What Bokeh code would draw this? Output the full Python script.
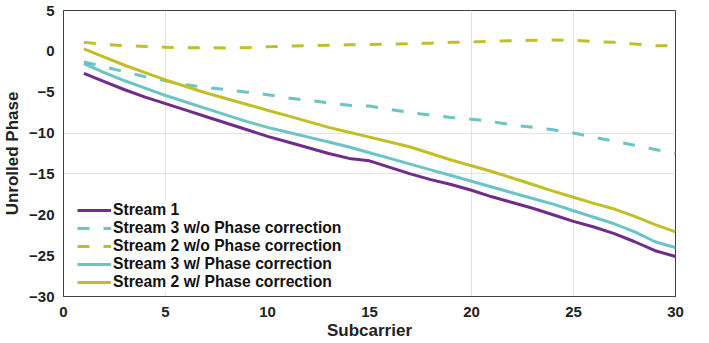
from bokeh.plotting import figure
from bokeh.models import FixedTicker, Range1d
from bokeh.embed import file_html
from bokeh.resources import INLINE

subcarrier = list(range(1, 31))
stream1 = [-2.7, -3.7, -4.7, -5.6, -6.4, -7.2, -8.0, -8.8, -9.6, -10.4,
           -11.1, -11.8, -12.5, -13.1, -13.4, -14.2, -15.0, -15.7, -16.3, -17.0,
           -17.8, -18.5, -19.2, -20.0, -20.8, -21.5, -22.3, -23.3, -24.4, -25.1]
stream3_wo = [-1.3, -1.9, -2.5, -3.1, -3.6, -4.1, -4.4, -4.7, -5.0, -5.3,
              -5.7, -6.0, -6.3, -6.6, -6.7, -7.1, -7.5, -7.8, -8.1, -8.3,
              -8.6, -9.0, -9.3, -9.6, -10.0, -10.5, -11.0, -11.5, -12.0, -12.5]
stream2_wo = [1.1, 0.85, 0.7, 0.6, 0.5, 0.45, 0.45, 0.4, 0.45, 0.55,
              0.65, 0.7, 0.75, 0.8, 0.85, 0.9, 0.95, 1.0, 1.1, 1.15,
              1.25, 1.3, 1.35, 1.4, 1.35, 1.2, 1.1, 0.9, 0.7, 0.7]
stream3_w = [-1.5, -2.6, -3.6, -4.5, -5.4, -6.2, -7.0, -7.8, -8.6, -9.3,
             -9.9, -10.5, -11.1, -11.7, -12.4, -13.1, -13.8, -14.5, -15.2, -15.9,
             -16.6, -17.3, -18.0, -18.7, -19.5, -20.3, -21.1, -22.1, -23.3, -24.0]
stream2_w = [0.3, -0.7, -1.7, -2.6, -3.5, -4.3, -5.1, -5.8, -6.5, -7.2,
             -7.9, -8.6, -9.3, -9.9, -10.5, -11.1, -11.7, -12.5, -13.3, -14.0,
             -14.7, -15.5, -16.3, -17.1, -17.85, -18.6, -19.3, -20.2, -21.2, -22.1]

labels = ["Stream 1", "Stream 3 w/o Phase correction", "Stream 2 w/o Phase correction",
          "Stream 3 w/ Phase correction", "Stream 2 w/ Phase correction"]
x_ticks = [0, 5, 10, 15, 20, 25, 30]
y_ticks = [5, 0, -5, -10, -15, -20, -25, -30]
x_grid = [5, 20, 25]
y_grid = [-10, -15]

PURPLE = "#6f2c8c"
TEAL = "#6cc4c4"
OLIVE = "#c0bf28"
FONT = "Liberation Sans"
AXC = "#404040"

p = figure(frame_width=612, frame_height=286, output_backend="svg", toolbar_location=None,
           x_range=Range1d(0, 30), y_range=Range1d(-30, 5),
           min_border_left=54, min_border_right=27, min_border_top=10, min_border_bottom=40)
p.background_fill_color = "white"
p.border_fill_color = "white"
p.outline_line_color = AXC
p.outline_line_width = 1

series = [(stream1, PURPLE, "solid"), (stream3_wo, TEAL, "12 14"), (stream2_wo, OLIVE, "12 14"),
          (stream3_w, TEAL, "solid"), (stream2_w, OLIVE, "solid")]
for (ys, col, dash), lab in zip(series, labels):
    p.line(subcarrier, ys, line_color=col, line_width=3, line_dash=dash, legend_label=lab)

for ax, ticks in ((p.xaxis[0], x_ticks), (p.yaxis[0], y_ticks)):
    ax.ticker = FixedTicker(ticks=ticks)
    ax.major_label_overrides = {t: str(t).replace("-", "\u2212") for t in ticks}
    ax.major_tick_line_color = None
    ax.minor_tick_line_color = None
    ax.axis_line_color = AXC
    ax.major_label_text_font = FONT
    ax.major_label_text_font_style = "bold"
    ax.major_label_text_font_size = "15px"
    ax.major_label_text_color = "#222222"
    ax.axis_label_text_font = FONT
    ax.axis_label_text_font_style = "bold"
    ax.axis_label_text_font_size = "17px"
    ax.axis_label_text_color = "#222222"

p.xaxis.axis_label = "Subcarrier"
p.yaxis.axis_label = "Unrolled Phase"
p.xaxis.major_label_standoff = 4
p.xaxis.axis_label_standoff = 1
p.yaxis.major_label_standoff = 3
p.yaxis.axis_label_standoff = 4

p.xgrid.ticker = FixedTicker(ticks=x_grid)
p.ygrid.ticker = FixedTicker(ticks=y_grid)
p.grid.grid_line_color = "#e3e3e3"
p.grid.grid_line_width = 1

lg = p.legend[0]
lg.location = (14, 5)
lg.border_line_color = None
lg.background_fill_color = "white"
lg.background_fill_alpha = 1
lg.padding = 4
lg.margin = 0
lg.spacing = 0
lg.glyph_width = 34
lg.glyph_height = 18
lg.label_height = 18
lg.label_standoff = 2
lg.label_text_font = FONT
lg.label_text_font_style = "bold"
lg.label_text_font_size = "15.7px"
lg.label_text_color = "#111111"

open("out.html", "w").write(file_html(p, INLINE))
